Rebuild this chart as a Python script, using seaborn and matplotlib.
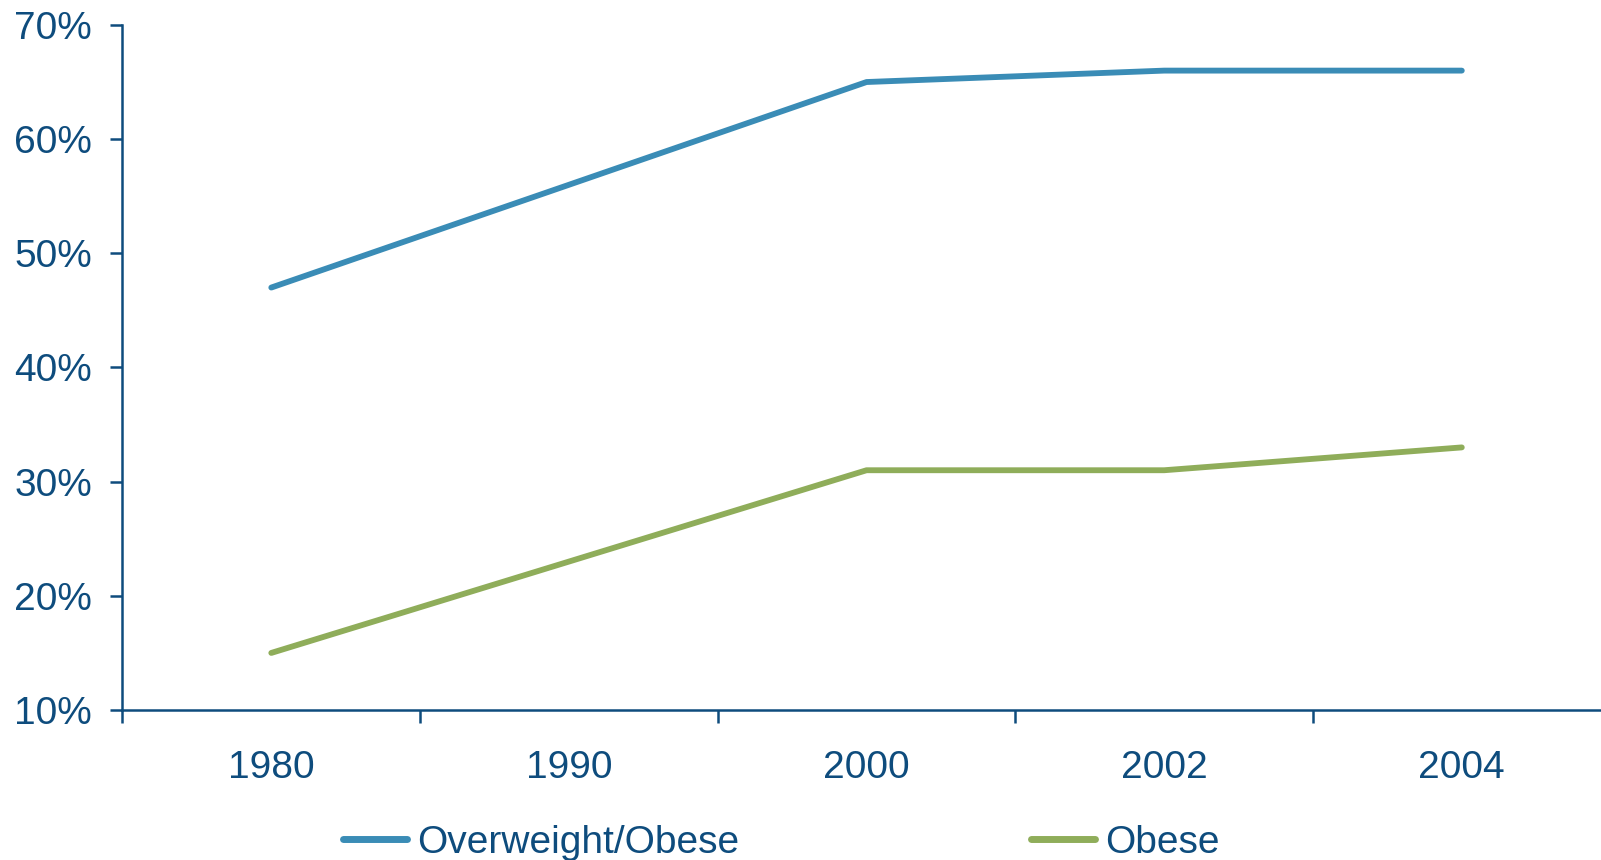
import numpy as np
import pandas as pd
import matplotlib
matplotlib.use("Agg")
import matplotlib.pyplot as plt
import seaborn as sns
from matplotlib.ticker import FixedLocator, FuncFormatter
from matplotlib.lines import Line2D

years = ["1980", "1990", "2000", "2002", "2004"]
overweight_obese = [47, 56, 65, 66, 66]
obese = [15, 23, 31, 31, 33]
series_names = ["Overweight/Obese", "Obese"]
y_ticks = [10, 20, 30, 40, 50, 60, 70]

sns.set_theme(style="white")
plt.rcParams["font.family"] = ["Liberation Sans", "DejaVu Sans"]

TEXT = "#0e4c7d"
colors = {"Overweight/Obese": "#3a8cb6", "Obese": "#8fad5a"}

pos = np.arange(len(years))
df = pd.DataFrame({
    "pos": np.concatenate([pos, pos]),
    "value": overweight_obese + obese,
    "series": [series_names[0]] * len(years) + [series_names[1]] * len(years),
})

fig = plt.figure(figsize=(16.01, 8.60), dpi=100)
fig.patch.set_facecolor("white")
ax = fig.add_axes([0.0765, 0.1744, 1.006 - 0.0765, 0.971 - 0.1744])

sns.lineplot(data=df, x="pos", y="value", hue="series", palette=colors,
             hue_order=series_names, linewidth=4.2, ax=ax, legend=False,
             solid_capstyle="round")

ax.set_xlim(-0.5, len(years) - 0.5)
ax.set_ylim(10, 70)
ax.set_xlabel("")
ax.set_ylabel("")

ax.xaxis.set_major_locator(FixedLocator(np.arange(-0.5, len(years), 1.0)))
ax.xaxis.set_major_formatter(FuncFormatter(lambda v, p: ""))
ax.xaxis.set_minor_locator(FixedLocator(pos))
ax.set_xticklabels(years, minor=True)
ax.set_yticks(y_ticks)
ax.set_yticklabels([f"{v}%" for v in y_ticks])

for s in ["top", "right"]:
    ax.spines[s].set_visible(False)
for s in ["left", "bottom"]:
    ax.spines[s].set_color(TEXT)
    ax.spines[s].set_linewidth(1.8)

ax.tick_params(axis="y", which="major", direction="out", length=9, width=1.8,
               color=TEXT, labelcolor=TEXT, labelsize=28, pad=13, left=True)
ax.tick_params(axis="x", which="major", direction="out", length=9, width=1.8,
               color=TEXT, bottom=True)
ax.tick_params(axis="x", which="minor", length=0, labelcolor=TEXT,
               labelsize=28, pad=29)

handles = [Line2D([0], [0], color=colors[n], linewidth=5.0, solid_capstyle="round")
           for n in series_names]
leg = fig.legend(handles, series_names, loc="center", ncol=2,
                 bbox_to_anchor=(0.488, 0.020), frameon=False,
                 fontsize=28, handlelength=1.65, handletextpad=0.25,
                 columnspacing=7.5, labelcolor=TEXT)

fig.savefig("out.png", dpi=100, facecolor="white")
